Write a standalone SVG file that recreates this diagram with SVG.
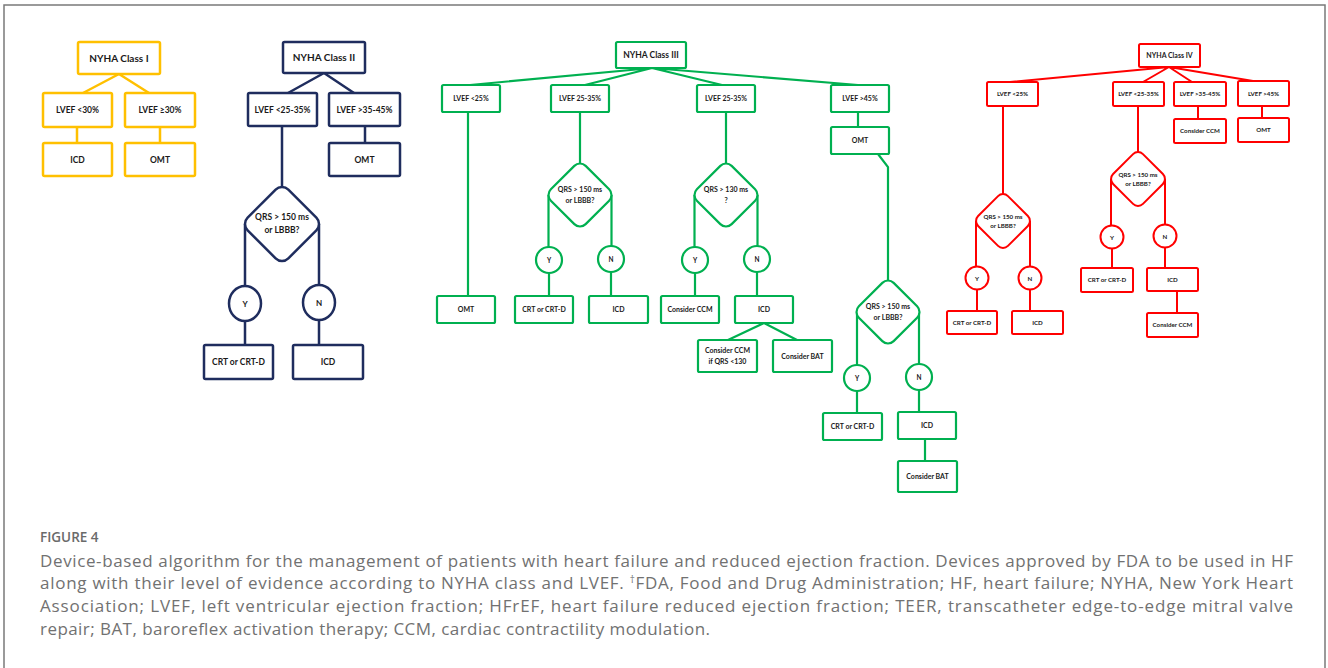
<svg xmlns="http://www.w3.org/2000/svg" width="1328" height="668" viewBox="0 0 1328 668">
  <style>
    .yl { stroke: #FFC000; stroke-width: 2.5; fill: none; }
    .nv { stroke: #1F2D5E; stroke-width: 2.5; fill: none; }
    .gr { stroke: #00B050; stroke-width: 2.2; fill: none; }
    .rd { stroke: #FF0000; stroke-width: 2; fill: none; }
    .yl.box, .nv.box, .gr.box, .rd.box { fill: #ffffff; }
    text { font-family: Lato, "Open Sans", "Liberation Sans", sans-serif; font-weight: bold; fill: #1a1a1a; text-anchor: middle; }
    .t10 { font-size: 10px; }
    .t85 { font-size: 8.5px; }
    .t8 { font-size: 8px; }
    .t7 { font-size: 7px; }
    .t65 { font-size: 6.5px; }
    .t6 { font-size: 6.2px; }
    .cap { font-family: "Open Sans", "Liberation Sans", sans-serif; font-weight: normal; fill: #717171; text-anchor: start; font-size: 17px; }
    .fig { font-family: "Open Sans", "Liberation Sans", sans-serif; font-weight: 600; fill: #6a6a6a; text-anchor: start; font-size: 13.5px; }
  </style>

  <rect width="1328" height="668" fill="#ffffff"/>
  <!-- page frame -->
  <path d="M4,668 V5 H1325 V668" fill="none" stroke="#7a7a7a" stroke-width="1.5"/>

  <!-- connectors -->
  <g id="connectors">
    <g class="yl">
      <path d="M119,74 L83,93 M119,74 L149,93"/>
      <path d="M77,127 V143 M160,127 V143"/>
    </g>
    <g class="nv">
      <path d="M324,73 L288,93 M324,73 L354,93"/>
      <path d="M282,126 V188"/>
      <path d="M365,126 V143"/>
      <path d="M245,224 V286 M319,224 V285"/>
      <path d="M245,321 V345 M319,320 V345"/>
    </g>
    <g class="gr">
      <path d="M652,68 L470,85 M652,68 L585,85 M652,68 L722,85 M652,68 L858,85"/>
      <path d="M468,112 V296"/>
      <path d="M580,112 V164"/>
      <path d="M548.5,195 V247 M611.5,195 V246"/>
      <path d="M549,273 V296 M611,272 V296"/>
      <path d="M726,112 V164"/>
      <path d="M694.5,195 V247 M757.5,195 V246"/>
      <path d="M695,273 V296 M757,272 V296"/>
      <path d="M764,323 L728,340 M764,323 L797,340"/>
      <path d="M858,112 V127"/>
      <path d="M878,154 L888,167 V281"/>
      <path d="M857,312 V365 M919,312 V364"/>
      <path d="M857,391 V413 M919,390 V412"/>
      <path d="M925,439 V461"/>
    </g>
    <g class="rd">
      <path d="M1169,67 L1010,82 M1169,67 L1143,82 M1169,67 L1192,82 M1169,67 L1253,81"/>
      <path d="M1003,106 V194"/>
      <path d="M976,221 V266.5 M1030,221 V266.5"/>
      <path d="M977,289.5 V311 M1030,289.5 V311"/>
      <path d="M1138,106 V152"/>
      <path d="M1111,179 V225.5 M1165,179 V224.5"/>
      <path d="M1112,248.5 V268 M1165,247.5 V268"/>
      <path d="M1177,291 V313"/>
      <path d="M1198,106 V119 M1262,106 V118"/>
    </g>
  </g>

  <!-- NYHA class I -->
  <g id="c1-root"><rect class="yl box" x="78" y="42" width="82" height="32" rx="1.5"/><text class="t10" x="119" y="61.5">NYHA Class I</text></g>
  <g id="c1-lvef-lt30"><rect class="yl box" x="43" y="93" width="69" height="34" rx="1.5"/><text class="t85" x="77.5" y="113">LVEF &lt;30%</text></g>
  <g id="c1-lvef-ge30"><rect class="yl box" x="125" y="93" width="70" height="34" rx="1.5"/><text class="t85" x="160" y="113">LVEF ≥30%</text></g>
  <g id="c1-icd"><rect class="yl box" x="43" y="143" width="69" height="33" rx="1.5"/><text class="t85" x="77.5" y="162.5">ICD</text></g>
  <g id="c1-omt"><rect class="yl box" x="125" y="143" width="70" height="33" rx="1.5"/><text class="t85" x="160" y="162.5">OMT</text></g>

  <!-- NYHA class II -->
  <g id="c2-root"><rect class="nv box" x="283" y="42" width="82" height="31" rx="1.5"/><text class="t10" x="324" y="61">NYHA Class II</text></g>
  <g id="c2-lvef-low"><rect class="nv box" x="248" y="93" width="69" height="33" rx="1.5"/><text class="t85" x="282.5" y="112.5">LVEF &lt;25-35%</text></g>
  <g id="c2-lvef-mid"><rect class="nv box" x="329" y="93" width="71" height="33" rx="1.5"/><text class="t85" x="364.5" y="112.5">LVEF &gt;35-45%</text></g>
  <g id="c2-omt"><rect class="nv box" x="329" y="143" width="71" height="33" rx="1.5"/><text class="t85" x="364.5" y="162.5">OMT</text></g>
  <g id="c2-qrs"><rect class="nv box" x="-28.8" y="-28.8" width="57.6" height="57.6" rx="9" transform="translate(282,224) rotate(45)"/><text class="t85" x="282" y="220">QRS &gt; 150 ms</text><text class="t85" x="282" y="233">or LBBB?</text></g>
  <g id="c2-yes"><ellipse class="nv box" cx="245" cy="303.5" rx="16" ry="17.5"/><text class="t8" x="245" y="306.5">Y</text></g>
  <g id="c2-no"><ellipse class="nv box" cx="319" cy="302.5" rx="16" ry="17.5"/><text class="t8" x="319" y="305.5">N</text></g>
  <g id="c2-crt"><rect class="nv box" x="204" y="345" width="69" height="34" rx="1.5"/><text class="t85" x="238.5" y="365">CRT or CRT-D</text></g>
  <g id="c2-icd"><rect class="nv box" x="293" y="345" width="70" height="34" rx="1.5"/><text class="t85" x="328" y="365">ICD</text></g>

  <!-- NYHA class III -->
  <g id="c3-root"><rect class="gr box" x="616" y="42" width="70" height="26" rx="1.5"/><text class="t85" x="651" y="58">NYHA Class III</text></g>
  <g id="c3-lvef-lt25"><rect class="gr box" x="442" y="85" width="58" height="27" rx="1.5"/><text class="t7" x="471" y="101">LVEF &lt;25%</text></g>
  <g id="c3-lvef-25-35a"><rect class="gr box" x="551" y="85" width="58" height="27" rx="1.5"/><text class="t7" x="580" y="101">LVEF 25-35%</text></g>
  <g id="c3-lvef-25-35b"><rect class="gr box" x="697" y="85" width="58" height="27" rx="1.5"/><text class="t7" x="726" y="101">LVEF 25-35%</text></g>
  <g id="c3-lvef-gt45"><rect class="gr box" x="831" y="85" width="58" height="27" rx="1.5"/><text class="t7" x="860" y="101">LVEF &gt;45%</text></g>
  <g id="c3-omt-a"><rect class="gr box" x="831" y="127" width="58" height="27" rx="1.5"/><text class="t7" x="860" y="143">OMT</text></g>
  <g id="c3-omt-b"><rect class="gr box" x="437" y="296" width="58" height="27" rx="1.5"/><text class="t7" x="466" y="312">OMT</text></g>

  <g id="c3-qrs150a"><rect class="gr box" x="-24.6" y="-24.6" width="49.2" height="49.2" rx="8" transform="translate(580,195) rotate(45)"/><text class="t7" x="580" y="192">QRS &gt; 150 ms</text><text class="t7" x="580" y="203">or LBBB?</text></g>
  <g id="c3-y1"><circle class="gr box" cx="549" cy="260" r="13"/><text class="t65" x="549" y="262.5">Y</text></g>
  <g id="c3-n1"><circle class="gr box" cx="611" cy="259" r="13"/><text class="t65" x="611" y="261.5">N</text></g>
  <g id="c3-crt-a"><rect class="gr box" x="515" y="296" width="58" height="27" rx="1.5"/><text class="t7" x="544" y="312">CRT or CRT-D</text></g>
  <g id="c3-icd-a"><rect class="gr box" x="589" y="296" width="59" height="27" rx="1.5"/><text class="t7" x="618.5" y="312">ICD</text></g>

  <g id="c3-qrs130"><rect class="gr box" x="-24.6" y="-24.6" width="49.2" height="49.2" rx="8" transform="translate(726,195) rotate(45)"/><text class="t7" x="726" y="192">QRS &gt; 130 ms</text><text class="t7" x="726" y="203">?</text></g>
  <g id="c3-y2"><circle class="gr box" cx="695" cy="260" r="13"/><text class="t65" x="695" y="262.5">Y</text></g>
  <g id="c3-n2"><circle class="gr box" cx="757" cy="259" r="13"/><text class="t65" x="757" y="261.5">N</text></g>
  <g id="c3-ccm"><rect class="gr box" x="661" y="296" width="58" height="27" rx="1.5"/><text class="t7" x="690" y="312">Consider CCM</text></g>
  <g id="c3-icd-b"><rect class="gr box" x="735" y="296" width="58" height="27" rx="1.5"/><text class="t7" x="764" y="312">ICD</text></g>
  <g id="c3-ccm-qrs"><rect class="gr box" x="698" y="340" width="59" height="32" rx="1.5"/><text class="t7" x="727.5" y="353">Consider CCM</text><text class="t7" x="727.5" y="363.5">if QRS &lt;130</text></g>
  <g id="c3-bat-a"><rect class="gr box" x="773" y="340" width="59" height="32" rx="1.5"/><text class="t7" x="802.5" y="358.5">Consider BAT</text></g>

  <g id="c3-qrs150b"><rect class="gr box" x="-24.6" y="-24.6" width="49.2" height="49.2" rx="8" transform="translate(888,312) rotate(45)"/><text class="t7" x="888" y="309">QRS &gt; 150 ms</text><text class="t7" x="888" y="320">or LBBB?</text></g>
  <g id="c3-y3"><circle class="gr box" cx="857" cy="378" r="13"/><text class="t65" x="857" y="380.5">Y</text></g>
  <g id="c3-n3"><circle class="gr box" cx="919" cy="377" r="13"/><text class="t65" x="919" y="379.5">N</text></g>
  <g id="c3-crt-b"><rect class="gr box" x="823" y="413" width="59" height="27" rx="1.5"/><text class="t7" x="852.5" y="429">CRT or CRT-D</text></g>
  <g id="c3-icd-c"><rect class="gr box" x="898" y="412" width="58" height="27" rx="1.5"/><text class="t7" x="927" y="428">ICD</text></g>
  <g id="c3-bat-b"><rect class="gr box" x="898" y="461" width="59" height="31" rx="1.5"/><text class="t7" x="927.5" y="479">Consider BAT</text></g>

  <!-- NYHA class IV -->
  <g id="c4-root"><rect class="rd box" x="1139" y="44" width="61" height="23" rx="1.5"/><text class="t7" x="1169.5" y="58">NYHA Class IV</text></g>
  <g id="c4-lvef-lt25"><rect class="rd box" x="987" y="82" width="51" height="24" rx="1.5"/><text class="t6" x="1012.5" y="96">LVEF &lt;25%</text></g>
  <g id="c4-lvef-low"><rect class="rd box" x="1113" y="82" width="51" height="24" rx="1.5"/><text class="t6" x="1138.5" y="96">LVEF &lt;25-35%</text></g>
  <g id="c4-lvef-mid"><rect class="rd box" x="1174" y="82" width="52" height="24" rx="1.5"/><text class="t6" x="1200" y="96">LVEF &gt;35-45%</text></g>
  <g id="c4-lvef-gt45"><rect class="rd box" x="1238" y="81" width="51" height="25" rx="1.5"/><text class="t6" x="1263.5" y="95.5">LVEF &gt;45%</text></g>
  <g id="c4-ccm-a"><rect class="rd box" x="1174" y="119" width="52" height="24" rx="1.5"/><text class="t6" x="1200" y="133">Consider CCM</text></g>
  <g id="c4-omt"><rect class="rd box" x="1238" y="118" width="51" height="24" rx="1.5"/><text class="t6" x="1263.5" y="132">OMT</text></g>

  <g id="c4-qrs-a"><rect class="rd box" x="-21.1" y="-21.1" width="42.2" height="42.2" rx="7" transform="translate(1003,221) rotate(45)"/><text class="t6" x="1003" y="218.5">QRS &gt; 150 ms</text><text class="t6" x="1003" y="228">or LBBB?</text></g>
  <g id="c4-ya"><circle class="rd box" cx="977" cy="278" r="11.5"/><text class="t6" x="977" y="280.5">Y</text></g>
  <g id="c4-na"><circle class="rd box" cx="1030" cy="278" r="11.5"/><text class="t6" x="1030" y="280.5">N</text></g>
  <g id="c4-crt-a"><rect class="rd box" x="947" y="311" width="50" height="23" rx="1.5"/><text class="t6" x="972" y="324.5">CRT or CRT-D</text></g>
  <g id="c4-icd-a"><rect class="rd box" x="1012" y="311" width="51" height="23" rx="1.5"/><text class="t6" x="1037.5" y="324.5">ICD</text></g>

  <g id="c4-qrs-b"><rect class="rd box" x="-21.1" y="-21.1" width="42.2" height="42.2" rx="7" transform="translate(1138,179) rotate(45)"/><text class="t6" x="1138" y="176.5">QRS &gt; 150 ms</text><text class="t6" x="1138" y="186">or LBBB?</text></g>
  <g id="c4-yb"><circle class="rd box" cx="1112" cy="237" r="11.5"/><text class="t6" x="1112" y="239.5">Y</text></g>
  <g id="c4-nb"><circle class="rd box" cx="1165" cy="236" r="11.5"/><text class="t6" x="1165" y="238.5">N</text></g>
  <g id="c4-crt-b"><rect class="rd box" x="1081" y="268" width="52" height="24" rx="1.5"/><text class="t6" x="1107" y="282">CRT or CRT-D</text></g>
  <g id="c4-icd-b"><rect class="rd box" x="1147" y="268" width="51" height="23" rx="1.5"/><text class="t6" x="1172.5" y="281.5">ICD</text></g>
  <g id="c4-ccm-b"><rect class="rd box" x="1147" y="313" width="51" height="24" rx="1.5"/><text class="t6" x="1172.5" y="327">Consider CCM</text></g>

  <!-- caption -->
  <g id="caption">
    <text class="fig" x="40" y="542">FIGURE 4</text>
    <text class="cap" x="40" y="567" textLength="1253" lengthAdjust="spacing">Device-based algorithm for the management of patients with heart failure and reduced ejection fraction. Devices approved by FDA to be used in HF</text>
    <text class="cap" x="40" y="589" textLength="1253" lengthAdjust="spacing">along with their level of evidence according to NYHA class and LVEF. <tspan font-size="10" dy="-6">†</tspan><tspan dy="6">FDA, Food and Drug Administration; HF, heart failure; NYHA, New York Heart</tspan></text>
    <text class="cap" x="40" y="612" textLength="1253" lengthAdjust="spacing">Association; LVEF, left ventricular ejection fraction; HFrEF, heart failure reduced ejection fraction; TEER, transcatheter edge-to-edge mitral valve</text>
    <text class="cap" x="40" y="635" textLength="670" lengthAdjust="spacing">repair; BAT, baroreflex activation therapy; CCM, cardiac contractility modulation.</text>
  </g>
</svg>
